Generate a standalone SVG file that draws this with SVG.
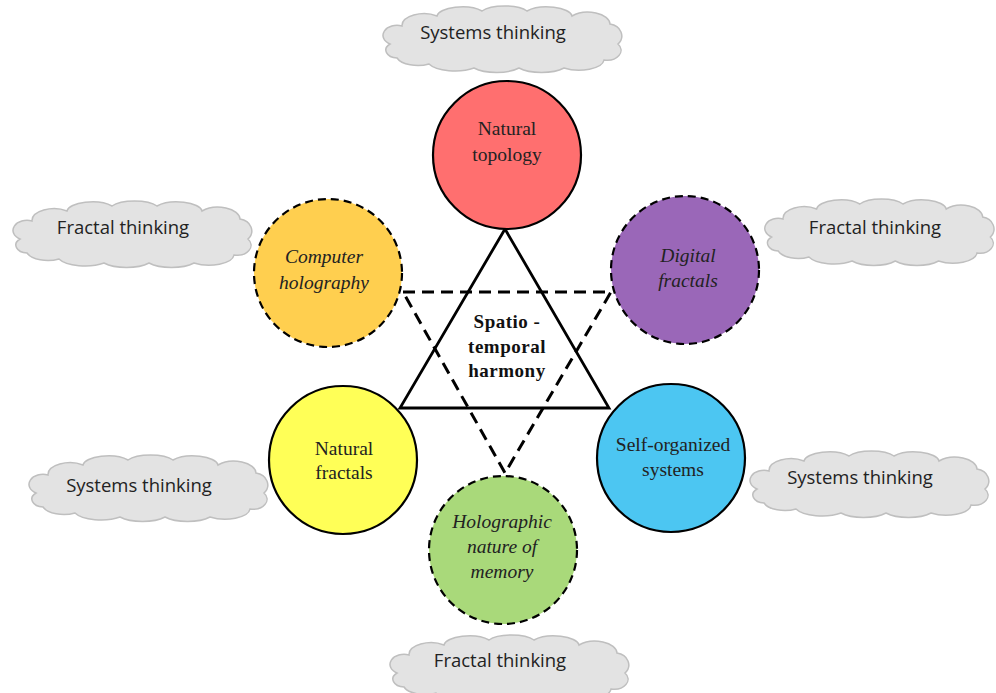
<svg xmlns="http://www.w3.org/2000/svg" width="996" height="693" viewBox="0 0 996 693">
<style>
.cloud{fill:#e3e3e3;stroke:#bfbfbf;stroke-width:1.5}
.ct{font-family:"Open Sans","Liberation Sans",sans-serif;font-size:18.5px;fill:#222;text-anchor:middle}
.node{stroke:#000;stroke-width:2.2}
.dash{stroke-dasharray:8 5}
.nt{font-family:"Liberation Serif","DejaVu Serif",serif;font-size:19.5px;fill:#222;text-anchor:middle}
.it{font-style:italic}
.ctr{font-family:"Liberation Serif","DejaVu Serif",serif;font-size:19px;font-weight:bold;fill:#111;text-anchor:middle;letter-spacing:0.5px}
.tri{fill:none;stroke:#000;stroke-width:2.8}
.tdash{stroke-dasharray:12 7;stroke-width:3}
</style>
<defs>
<path id="cl" d="M -112,8 a 14 10 0 0 1 12,-18 a 22 12 0 0 1 35,-10 a 25 10 0 0 1 45,-5 a 25 9 0 0 1 45,0 a 25 10 0 0 1 45,5 a 22 12 0 0 1 38,8 a 14 12 0 0 1 8,20 a 14 10 0 0 1 -14,16 a 25 11 0 0 1 -40,8 a 28 11 0 0 1 -45,0 a 28 11 0 0 1 -45,0 a 28 11 0 0 1 -45,-4 a 22 11 0 0 1 -32,-6 a 12 8 0 0 1 -7,-14 Z"/>
</defs>
<rect width="996" height="693" fill="#fff"/>
<g id="clouds">
<g id="cloud-top"><use href="#cl" class="cloud" transform="translate(502,36)"/><text class="ct" x="493" y="39">Systems thinking</text></g>
<g id="cloud-left"><use href="#cl" class="cloud" transform="translate(132,231)"/><text class="ct" x="123" y="234">Fractal thinking</text></g>
<g id="cloud-right"><use href="#cl" class="cloud" transform="translate(879,229) scale(0.96,1)"/><text class="ct" x="875" y="234">Fractal thinking</text></g>
<g id="cloud-lbottom"><use href="#cl" class="cloud" transform="translate(148,485)"/><text class="ct" x="139" y="492">Systems thinking</text></g>
<g id="cloud-rbottom"><use href="#cl" class="cloud" transform="translate(869,481)"/><text class="ct" x="860" y="484">Systems thinking</text></g>
<g id="cloud-bottom"><use href="#cl" class="cloud" transform="translate(509,665)"/><text class="ct" x="500" y="667">Fractal thinking</text></g>
</g>
<g id="connectors">
<polygon class="tri" points="505,229 400,408 609,408"/>
<polygon class="tri tdash" points="403,292 611,292 505,473"/>
</g>
<g id="center"><text class="ctr" x="507" y="328">Spatio -</text><text class="ctr" x="507" y="353">temporal</text><text class="ctr" x="507" y="377">harmony</text></g>
<g id="n-topology"><circle class="node" cx="507" cy="155" r="74" fill="#FF6F6F"/><text class="nt" x="507" y="135">Natural</text><text class="nt" x="507" y="161">topology</text></g>
<g id="n-holography"><circle class="node dash" cx="328" cy="273" r="74" fill="#FFCF4F"/><text class="nt it" x="324" y="263">Computer</text><text class="nt it" x="324" y="289">holography</text></g>
<g id="n-digital"><circle class="node dash" cx="685" cy="270" r="74" fill="#9A67B8"/><text class="nt it" x="688" y="262">Digital</text><text class="nt it" x="688" y="287">fractals</text></g>
<g id="n-natfractals"><circle class="node" cx="343" cy="460" r="74" fill="#FFFF57"/><text class="nt" x="344" y="455">Natural</text><text class="nt" x="344" y="479">fractals</text></g>
<g id="n-selforg"><circle class="node" cx="671" cy="458" r="74" fill="#4CC6F2"/><text class="nt" x="673" y="451">Self-organized</text><text class="nt" x="673" y="476">systems</text></g>
<g id="n-memory"><circle class="node dash" cx="503" cy="550" r="74" fill="#A9D97A"/><text class="nt it" x="502" y="528">Holographic</text><text class="nt it" x="502" y="553">nature of</text><text class="nt it" x="502" y="578">memory</text></g>
</svg>
